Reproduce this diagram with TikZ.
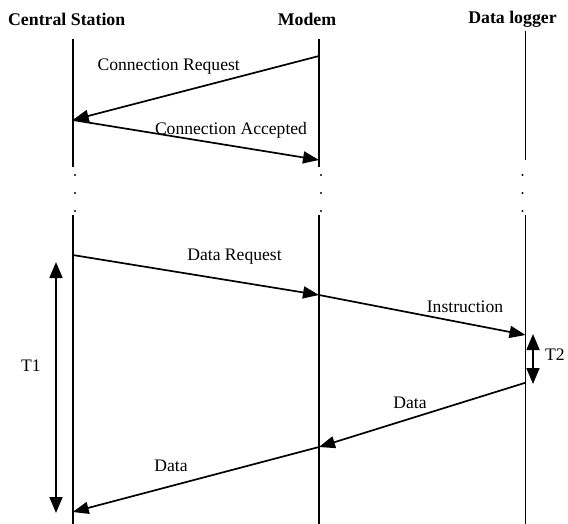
\documentclass[tikz,border=0pt]{standalone}
\usepackage{fontspec}
\setmainfont{Liberation Serif}
\usetikzlibrary{arrows.meta}
\begin{document}
\begin{tikzpicture}[x=1pt,y=-1pt,
  life/.style={line width=1.9pt},
  msg/.style={line width=1.7pt,-{Triangle[length=16pt,width=12pt]}},
  dur/.style={line width=1.7pt,{Triangle[length=16pt,width=13pt]}-{Triangle[length=16pt,width=13pt]}},
  head/.style={font=\fontsize{17.8}{20}\selectfont\bfseries},
  lab/.style={font=\fontsize{17.6}{20}\selectfont},
  dot/.style={circle,fill,inner sep=0pt,minimum size=2.4pt}]
\useasboundingbox (0,0) rectangle (568,524);
% headers
\node[head] (hcs) at (66.7,19) {Central Station};
\node[head] (hmo) at (307,19) {Modem};
\node[head] (hdl) at (512.5,19) {Data logger};
% lifeline points
\coordinate (cs0) at (72.7,39);  \coordinate (cs1) at (72.7,167);
\coordinate (cs2) at (72.7,215); \coordinate (cs3) at (72.7,524);
\coordinate (mo0) at (319,39); \coordinate (mo1) at (319,167);
\coordinate (mo2) at (319,215); \coordinate (mo3) at (319,524);
\coordinate (dl0) at (525.5,31.5); \coordinate (dl1) at (525.5,160);
\coordinate (dl2) at (525.5,215); \coordinate (dl3) at (525.5,524);
\draw[life] (cs0) -- (cs1) (cs2) -- (cs3);
\draw[life] (mo0) -- (mo1) (mo2) -- (mo3);
\draw[life] (dl0) -- (dl1) (dl2) -- (dl3);
% dots
\foreach \x/\n in {75/c,321/m,522.5/d}{
  \node[dot] (\n a) at (\x,175) {};
  \node[dot] (\n b) at (\x,193) {};
  \node[dot] (\n c) at (\x,211) {};
}
% message points
\coordinate (m1) at (319,56);
\coordinate (c1) at (72.7,120);
\coordinate (m2) at (319,160);
\coordinate (c2) at (72.7,255);
\coordinate (m3) at (319,295);
\coordinate (d3) at (525.5,335);
\coordinate (d4) at (525.5,382.7);
\coordinate (m4) at (319,447);
\coordinate (c4) at (72.7,512);
\draw[msg] (m1) -- (c1);
\draw[msg] (c1) -- (m2);
\draw[msg] (c2) -- (m3);
\draw[msg] (m3) -- (d3);
\draw[msg] (d4) -- (m4);
\draw[msg] (m4) -- (c4);
% labels
\node[lab] (l1) at (168.7,66.5) {Connection Request};
\node[lab] (l2) at (231,130) {Connection Accepted};
\node[lab] (l3) at (234.5,256.7) {Data Request};
\node[lab] (l4) at (465,306.7) {Instruction};
\node[lab] (l5) at (410,402.7) {Data};
\node[lab] (l6) at (171,466) {Data};
% durations
\coordinate (t1a) at (56,262); \coordinate (t1b) at (56,513);
\coordinate (t2a) at (533,334); \coordinate (t2b) at (533,384);
\draw[dur] (t1a) -- (t1b);
\draw[dur] (t2a) -- (t2b);
\node[lab] (T1) at (31,366) {T1};
\node[lab] (T2) at (555,355) {T2};
\end{tikzpicture}
\end{document}
